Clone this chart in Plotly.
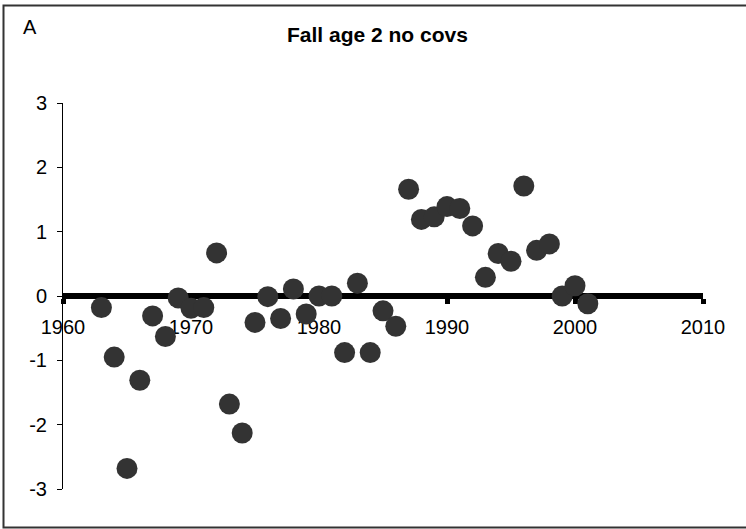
import plotly.graph_objects as go

years = list(range(1963, 2002))
values = [-0.18, -0.95, -2.68, -1.31, -0.31, -0.63, -0.03, -0.19, -0.18, 0.67,
          -1.68, -2.13, -0.41, -0.01, -0.35, 0.11, -0.28, 0.0, 0.0, -0.88,
          0.2, -0.88, -0.23, -0.47, 1.66, 1.19, 1.23, 1.39, 1.36, 1.09,
          0.29, 0.66, 0.54, 1.71, 0.71, 0.81, 0.0, 0.16, -0.12]
x_ticks = [1960, 1970, 1980, 1990, 2000, 2010]
y_ticks = [-3, -2, -1, 0, 1, 2, 3]
y_tick_text = ["-3", "-2", "-1", "0", "1", "2", "3"]

W, H = 746, 529
L, R, T, B = 63, 43, 103, 40
pw, ph = W - L - R, H - T - B

def px_x(px):
    return (px - L) / pw

def px_y(py):
    return (H - B - py) / ph

font = "Liberation Sans, Arial, sans-serif"

fig = go.Figure()
fig.add_trace(go.Scatter(
    x=years, y=values, mode="markers",
    marker=dict(size=21, color="#333333", line=dict(width=0)),
    showlegend=False, cliponaxis=False,
))

fig.update_layout(
    width=W, height=H,
    margin=dict(l=L, r=R, t=T, b=B),
    paper_bgcolor="white", plot_bgcolor="white",
    font=dict(family=font, size=20, color="black"),
    xaxis=dict(
        range=[1960, 2010], tickvals=x_ticks, ticktext=[str(v) for v in x_ticks],
        showgrid=False, zeroline=False,
        showline=True, linecolor="black", linewidth=6,
        anchor="free", position=0.5,
        ticks="outside", ticklen=5, tickwidth=5, tickcolor="black",
        ticklabelstandoff=6,
        layer="below traces",
    ),
    yaxis=dict(
        range=[-3, 3], tickvals=y_ticks, ticktext=y_tick_text,
        showgrid=False, zeroline=False,
        showline=True, linecolor="black", linewidth=1,
        ticks="outside", ticklen=5, tickwidth=1, tickcolor="black",
        ticklabelstandoff=6,
        layer="below traces",
    ),
)

fig.add_shape(type="rect", xref="paper", yref="paper",
              x0=px_x(3.5), x1=px_x(760), y0=px_y(527.5), y1=px_y(5.5),
              line=dict(color="#333333", width=2), fillcolor="rgba(0,0,0,0)",
              layer="below")

fig.add_annotation(x=px_x(21), y=px_y(27), xref="paper", yref="paper",
                   text="A", showarrow=False, xanchor="left", yanchor="middle",
                   font=dict(family=font, size=20, color="black"))
fig.add_annotation(x=px_x(377), y=px_y(34), xref="paper", yref="paper",
                   text="<b>Fall age 2 no covs</b>", showarrow=False,
                   xanchor="center", yanchor="middle",
                   font=dict(family=font, size=21, color="black"))

fig.write_html("out.html", config={"displayModeBar": False},
               post_script="document.body.style.margin='0';document.body.style.padding='0';document.body.style.overflow='hidden';")
